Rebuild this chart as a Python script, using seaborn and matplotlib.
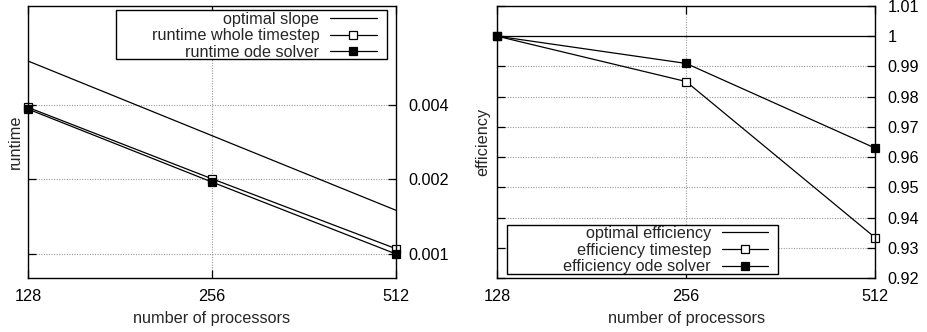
import matplotlib
matplotlib.use("Agg")
import matplotlib.pyplot as plt
import seaborn as sns
import pandas as pd
from matplotlib.patches import Rectangle
from matplotlib.ticker import FixedLocator, FixedFormatter, NullLocator

# ---- data ----
processors = [128, 256, 512]
optimal_slope = [0.006, 0.003, 0.0015]
runtime_whole = [0.0039, 0.00201, 0.00105]
runtime_ode = [0.00384, 0.00195, 0.001]
runtime_ticks = [0.001, 0.002, 0.004]
runtime_ticklabels = ["0.001", "0.002", "0.004"]

optimal_eff = [1.0, 1.0, 1.0]
eff_timestep = [1.0, 0.985, 0.9334]
eff_ode = [1.0, 0.991, 0.963]
eff_ticks = [0.92, 0.93, 0.94, 0.95, 0.96, 0.97, 0.98, 0.99, 1.0, 1.01]
eff_ticklabels = ["0.92", "0.93", "0.94", "0.95", "0.96", "0.97", "0.98", "0.99", "1", "1.01"]
x_ticklabels = ["128", "256", "512"]

sns.set_theme(style="white")
plt.rcParams['font.family'] = ['Liberation Sans', 'DejaVu Sans']
FS = 11.7
plt.rcParams['font.size'] = FS

fig = plt.figure(figsize=(9.28, 3.32), dpi=100)
ax1 = fig.add_axes([28/928, 1-278/332, 368/928, 272/332])
ax2 = fig.add_axes([497.3/928, 1-278/332, 377.7/928, 272/332])

df1 = pd.DataFrame({"p": processors, "opt": optimal_slope, "whole": runtime_whole, "ode": runtime_ode})
df2 = pd.DataFrame({"p": processors, "opt": optimal_eff, "ts": eff_timestep, "ode": eff_ode})

lw = 0.9
ms = 5.6
open_kw = dict(marker="s", markersize=ms, markerfacecolor="white", markeredgecolor="black",
               markeredgewidth=0.9, clip_on=False)
full_kw = dict(marker="s", markersize=ms, markerfacecolor="black", markeredgecolor="black",
               markeredgewidth=0.9, clip_on=False)

sns.lineplot(data=df1, x="p", y="opt", ax=ax1, color="black", lw=lw, label="optimal slope")
sns.lineplot(data=df1, x="p", y="whole", ax=ax1, color="black", lw=lw, label="runtime whole timestep", **open_kw)
sns.lineplot(data=df1, x="p", y="ode", ax=ax1, color="black", lw=lw, label="runtime ode solver", **full_kw)

sns.lineplot(data=df2, x="p", y="opt", ax=ax2, color="black", lw=lw, label="optimal efficiency")
sns.lineplot(data=df2, x="p", y="ts", ax=ax2, color="black", lw=lw, label="efficiency timestep", **open_kw)
sns.lineplot(data=df2, x="p", y="ode", ax=ax2, color="black", lw=lw, label="efficiency ode solver", **full_kw)

for ax in (ax1, ax2):
    ax.set_xscale("log", base=2)
    ax.set_xlim(128, 512)
    ax.xaxis.set_major_locator(FixedLocator(processors))
    ax.xaxis.set_major_formatter(FixedFormatter(x_ticklabels))
    ax.xaxis.set_minor_locator(NullLocator())
    ax.set_xlabel("number of processors", fontsize=FS, labelpad=5)
    for s in ax.spines.values():
        s.set_color("black")
        s.set_linewidth(1.0)
    ax.tick_params(axis="x", which="both", direction="in", length=6, width=0.9, top=True,
                   bottom=True, pad=8, labelsize=FS, colors="black")
    ax.tick_params(axis="y", which="both", direction="in", length=6, width=0.9, left=True,
                   right=True, labelleft=False, labelright=True, pad=9, labelsize=FS, colors="black")
    ax.grid(True, which="major", color="#999999", linestyle=(0, (1, 1.3)), linewidth=0.8)
    ax.set_axisbelow(True)

ax1.set_yscale("log")
ax1.set_ylim(0.0008, 0.01)
ax1.yaxis.set_major_locator(FixedLocator(runtime_ticks))
ax1.yaxis.set_major_formatter(FixedFormatter(runtime_ticklabels))
ax1.yaxis.set_minor_locator(NullLocator())
ax1.set_ylabel("runtime", fontsize=FS, labelpad=3.5)

ax2.set_ylim(0.92, 1.01)
ax2.yaxis.set_major_locator(FixedLocator(eff_ticks))
ax2.yaxis.set_major_formatter(FixedFormatter(eff_ticklabels))
ax2.set_ylabel("efficiency", fontsize=FS, labelpad=5)

leg_kw = dict(markerfirst=False, frameon=False, fontsize=FS,
              handlelength=2.87, handletextpad=0.66, labelspacing=0.1, borderpad=0,
              borderaxespad=0)
l1 = ax1.legend(loc="center right", bbox_to_anchor=(0.9476, 0.89), **leg_kw)
l2 = ax2.legend(loc="center right", bbox_to_anchor=(0.7175, 0.102), **leg_kw)

# gnuplot-style legend boxes
ax1.add_patch(Rectangle((0.2383, 0.804), 0.7364, 0.180, transform=ax1.transAxes,
                        facecolor="white", edgecolor="black", linewidth=1.0, zorder=4))
ax2.add_patch(Rectangle((0.0265, 0.0147), 0.7175, 0.179, transform=ax2.transAxes,
                        facecolor="white", edgecolor="black", linewidth=1.0, zorder=4))

fig.savefig("out.png", dpi=100)
